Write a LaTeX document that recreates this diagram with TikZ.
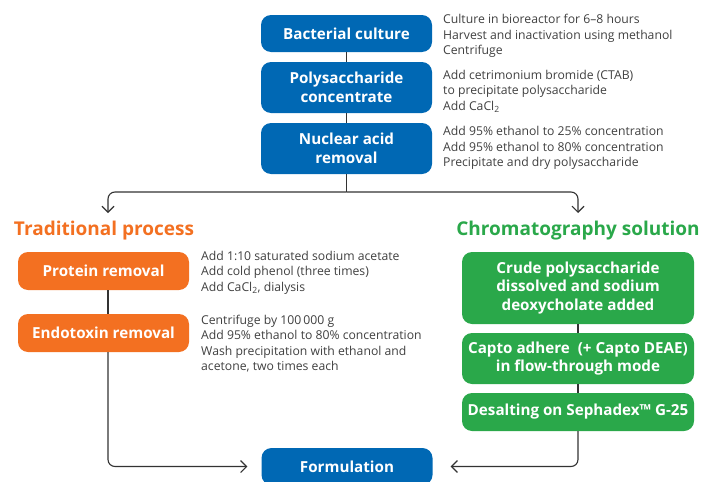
\documentclass[tikz,border=0pt]{standalone}
\usepackage{fontspec}
\setmainfont{Open Sans}
\usetikzlibrary{arrows.meta,positioning}

\definecolor{geblue}{HTML}{0068B4}
\definecolor{georange}{HTML}{F37021}
\definecolor{gegreen}{HTML}{2AA84A}
\definecolor{notegray}{HTML}{404040}
\definecolor{linegray}{HTML}{333333}

\begin{document}
\begin{tikzpicture}[x=1pt,y=-1pt,
		step box/.style={rounded corners=10pt,text=white,align=center,inner sep=0pt,
			font=\fontsize{15.2}{18.8}\selectfont\bfseries,minimum width=171pt},
		blue box/.style={step box,fill=geblue},
		orange box/.style={step box,fill=georange},
		green box/.style={step box,fill=gegreen,minimum width=232pt},
		note/.style={anchor=west,align=left,inner sep=0pt,text=notegray,
			font=\fontsize{12.2}{15.4}\selectfont},
		title/.style={font=\fontsize{19}{24}\selectfont\bfseries,inner sep=0pt},
		link/.style={draw=linegray,line width=1.1pt},
		flow/.style={link,-{Straight Barb[length=6pt,width=12pt]},rounded corners=7pt}]
		
		\useasboundingbox (0,0) rectangle (702,482);
		
		% main column
		\node[blue box,minimum height=37pt] (bact) at (346.5,33.5) {Bacterial culture};
		\node[blue box,minimum height=51pt] (poly) at (346.5,87.5) {Polysaccharide\\concentrate};
		\node[blue box,minimum height=51pt] (nucl) at (346.5,148.5) {Nuclear acid\\removal};
		\node[blue box,minimum height=37pt] (form) at (347,466.5) {Formulation};
		
		\node[note] (bactnote) at (443,36) {Culture in bioreactor for 6--8 hours\\Harvest and inactivation using methanol\\Centrifuge};
		\node[note] (polynote) at (443,91) {Add cetrimonium bromide (CTAB)\\to precipitate polysaccharide\\Add CaCl\textsubscript{2}};
		\node[note] (nuclnote) at (443,148) {Add 95\% ethanol to 25\% concentration\\Add 95\% ethanol to 80\% concentration\\Precipitate and dry polysaccharide};
		
		% traditional process
		\node[title,text=georange] (trad) at (104,231) {Traditional process};
		\node[orange box,minimum height=38pt] (prot) at (103.5,271) {Protein removal};
		\node[orange box,minimum height=38pt] (endo) at (103.5,333) {Endotoxin removal};
		
		\node[note,anchor=north west] (protnote) at (201,251) {Add 1:10 saturated sodium acetate\\Add cold phenol (three times)\\Add CaCl\textsubscript{2}, dialysis};
		\node[note,anchor=north west] (endonote) at (201,315) {Centrifuge by 100\,000 g\\Add 95\% ethanol to 80\% concentration\\Wash precipitation with ethanol and\\acetone, two times each};
		
		% chromatography solution
		\node[title,text=gegreen] (chrom) at (578,231) {Chromatography solution};
		\node[green box,minimum height=72pt] (crude) at (578,288) {Crude polysaccharide\\dissolved and sodium\\deoxycholate added};
		\node[green box,minimum height=51pt] (capto) at (578,358.5) {Capto adhere~ (+ Capto DEAE)\\in flow-through mode};
		\node[green box,minimum height=38pt] (desalt) at (578,412) {Desalting on Sephadex\texttrademark{} G-25};
		
		\coordinate (split) at (346.5,192);
		\coordinate (tradin) at (108,213);
		\coordinate (chromin) at (578,213);
		
		\draw[link] (bact) -- (poly);
		\draw[link] (poly) -- (nucl);
		\draw[link] (nucl) -- (split);
		\draw[flow] (split) -| (tradin);
		\draw[flow] (split) -| (chromin);
		
		\draw[link] (prot.south -| tradin) -- (endo.north -| tradin);
		\draw[flow,shorten >=14pt] (endo.south -| tradin) |- (form.west);
		
		\draw[link] (crude) -- (capto);
		\draw[link] (capto) -- (desalt);
		\draw[flow,shorten >=18pt] (desalt) |- (form.east);
		\end{tikzpicture}
\end{document}
